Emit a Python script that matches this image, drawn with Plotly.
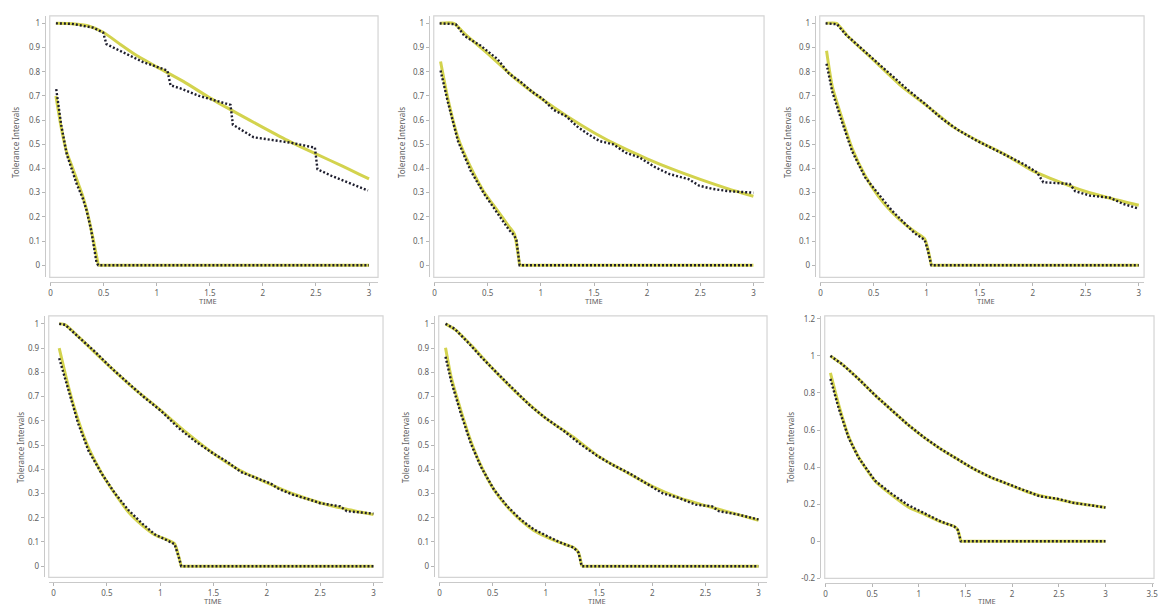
import plotly.graph_objects as go

W, H = 1161, 611

# ---------------- data ----------------
# Panel 1
p1_up_fit_x = [0.05, 0.2, 0.35, 0.5, 0.65, 0.8, 1.0, 1.25, 1.5, 1.75, 2.0, 2.25, 2.5, 2.75, 3.0]
p1_up_fit_y = [1.0, 0.998, 0.99, 0.962, 0.915, 0.87, 0.82, 0.76, 0.692, 0.63, 0.57, 0.512, 0.46, 0.41, 0.357]
p1_up_emp_x = [0.05, 0.2, 0.4, 0.495, 0.526, 0.68, 0.87, 1.056, 1.1, 1.13, 1.243, 1.40, 1.695, 1.717, 1.913, 2.27, 2.49, 2.514, 2.645, 2.99]
p1_up_emp_y = [1.0, 0.998, 0.982, 0.962, 0.914, 0.88, 0.84, 0.812, 0.805, 0.744, 0.728, 0.70, 0.663, 0.581, 0.529, 0.506, 0.486, 0.397, 0.37, 0.309]
p1_lo_fit_x = [0.05, 0.1, 0.15, 0.2, 0.25, 0.3, 0.35, 0.4, 0.45, 3.0]
p1_lo_fit_y = [0.70, 0.57, 0.47, 0.41, 0.35, 0.29, 0.21, 0.11, 0.0, 0.0]
p1_lo_emp_x = [0.053, 0.1, 0.152, 0.2, 0.246, 0.3, 0.339, 0.38, 0.433, 0.45, 3.0]
p1_lo_emp_y = [0.728, 0.58, 0.459, 0.40, 0.336, 0.28, 0.227, 0.15, 0.01, 0.0, 0.0]

# Panel 2
p2_up_fit_x = [0.05, 0.18, 0.3, 0.5, 0.75, 1.0, 1.25, 1.5, 1.75, 2.0, 2.25, 2.5, 2.75, 3.0]
p2_up_fit_y = [1.0, 1.0, 0.95, 0.875, 0.775, 0.69, 0.615, 0.548, 0.49, 0.44, 0.395, 0.355, 0.318, 0.285]
p2_up_emp_x = [0.047, 0.2, 0.28, 0.435, 0.59, 0.70, 0.81, 0.917, 1.01, 1.12, 1.24, 1.34, 1.45, 1.555, 1.68, 1.80, 1.93, 2.08, 2.21, 2.39, 2.49, 2.61, 2.77, 3.0]
p2_up_emp_y = [1.0, 0.996, 0.948, 0.907, 0.853, 0.792, 0.758, 0.717, 0.69, 0.642, 0.615, 0.574, 0.54, 0.513, 0.50, 0.465, 0.445, 0.404, 0.377, 0.356, 0.329, 0.316, 0.306, 0.30]
p2_lo_fit_x = [0.056, 0.124, 0.22, 0.34, 0.466, 0.59, 0.70, 0.75, 0.80, 3.0]
p2_lo_fit_y = [0.842, 0.69, 0.527, 0.404, 0.302, 0.227, 0.16, 0.13, 0.0, 0.0]
p2_lo_emp_x = [0.056, 0.124, 0.22, 0.34, 0.466, 0.59, 0.70, 0.746, 0.77, 0.80, 3.0]
p2_lo_emp_y = [0.805, 0.676, 0.513, 0.39, 0.295, 0.214, 0.146, 0.125, 0.105, 0.0, 0.0]

# Panel 3
p3_up_fit_x = [0.05, 0.15, 0.25, 0.5, 0.75, 1.0, 1.25, 1.5, 1.75, 2.0, 2.25, 2.5, 2.75, 3.0]
p3_up_fit_y = [1.0, 1.0, 0.95, 0.848, 0.745, 0.66, 0.572, 0.51, 0.455, 0.39, 0.345, 0.305, 0.275, 0.248]
p3_up_emp_x = [0.047, 0.156, 0.234, 0.358, 0.514, 0.67, 0.826, 0.98, 1.137, 1.293, 1.449, 1.604, 1.76, 1.916, 2.04, 2.10, 2.35, 2.40, 2.54, 2.73, 2.85, 3.0]
p3_up_emp_y = [1.0, 0.996, 0.955, 0.907, 0.846, 0.785, 0.724, 0.669, 0.608, 0.56, 0.52, 0.486, 0.452, 0.418, 0.384, 0.343, 0.336, 0.306, 0.288, 0.279, 0.254, 0.234]
p3_lo_fit_x = [0.056, 0.11, 0.2, 0.3, 0.42, 0.545, 0.67, 0.8, 0.9, 0.98, 1.01, 1.044, 3.0]
p3_lo_fit_y = [0.887, 0.74, 0.61, 0.48, 0.37, 0.285, 0.22, 0.168, 0.135, 0.11, 0.07, 0.0, 0.0]
p3_lo_emp_x = [0.056, 0.11, 0.2, 0.296, 0.42, 0.545, 0.67, 0.794, 0.888, 0.981, 1.01, 1.044, 3.0]
p3_lo_emp_y = [0.833, 0.717, 0.595, 0.472, 0.363, 0.295, 0.227, 0.173, 0.132, 0.105, 0.064, 0.0, 0.0]

# Panel 4
p4_up_fit_x = [0.053, 0.11, 0.25, 0.5, 0.75, 1.0, 1.25, 1.5, 1.75, 2.0, 2.25, 2.5, 2.75, 3.0]
p4_up_fit_y = [1.0, 0.996, 0.94, 0.835, 0.735, 0.645, 0.55, 0.465, 0.395, 0.345, 0.298, 0.262, 0.235, 0.213]
p4_up_emp_x = [0.053, 0.11, 0.233, 0.389, 0.544, 0.70, 0.855, 1.01, 1.166, 1.32, 1.477, 1.632, 1.756, 1.91, 2.036, 2.098, 2.25, 2.41, 2.5, 2.69, 2.75, 3.0]
p4_up_emp_y = [1.0, 0.996, 0.946, 0.885, 0.817, 0.756, 0.695, 0.64, 0.573, 0.518, 0.471, 0.43, 0.389, 0.362, 0.342, 0.322, 0.294, 0.274, 0.26, 0.247, 0.227, 0.217]
p4_lo_fit_x = [0.053, 0.14, 0.233, 0.326, 0.45, 0.575, 0.70, 0.824, 0.948, 1.072, 1.135, 1.18, 1.197, 3.0]
p4_lo_fit_y = [0.90, 0.74, 0.60, 0.49, 0.385, 0.30, 0.225, 0.172, 0.13, 0.108, 0.093, 0.03, 0.0, 0.0]
p4_lo_emp_x = [0.053, 0.14, 0.233, 0.326, 0.45, 0.575, 0.70, 0.824, 0.948, 1.072, 1.135, 1.18, 1.197, 3.0]
p4_lo_emp_y = [0.858, 0.722, 0.586, 0.478, 0.383, 0.301, 0.233, 0.179, 0.132, 0.105, 0.091, 0.03, 0.0, 0.0]

# Panel 5
p5_up_fit_x = [0.056, 0.15, 0.3, 0.5, 0.75, 1.0, 1.25, 1.5, 1.75, 2.0, 2.25, 2.5, 2.75, 3.0]
p5_up_fit_y = [1.0, 0.975, 0.91, 0.815, 0.705, 0.61, 0.535, 0.452, 0.39, 0.33, 0.283, 0.25, 0.22, 0.19]
p5_up_emp_x = [0.056, 0.14, 0.264, 0.389, 0.544, 0.70, 0.855, 1.01, 1.166, 1.32, 1.477, 1.632, 1.787, 1.943, 2.098, 2.254, 2.41, 2.564, 2.627, 2.81, 3.0]
p5_up_emp_y = [1.0, 0.98, 0.925, 0.864, 0.796, 0.729, 0.661, 0.607, 0.559, 0.505, 0.457, 0.417, 0.383, 0.342, 0.301, 0.281, 0.254, 0.247, 0.227, 0.213, 0.193]
p5_lo_fit_x = [0.056, 0.109, 0.202, 0.295, 0.389, 0.513, 0.637, 0.762, 0.886, 1.01, 1.135, 1.26, 1.306, 1.337, 3.0]
p5_lo_fit_y = [0.901, 0.78, 0.64, 0.515, 0.415, 0.315, 0.245, 0.19, 0.148, 0.12, 0.097, 0.077, 0.057, 0.0, 0.0]
p5_lo_emp_x = [0.056, 0.109, 0.202, 0.295, 0.389, 0.513, 0.637, 0.762, 0.886, 1.01, 1.135, 1.26, 1.306, 1.337, 3.0]
p5_lo_emp_y = [0.864, 0.763, 0.627, 0.505, 0.41, 0.315, 0.247, 0.193, 0.152, 0.125, 0.098, 0.077, 0.057, 0.0, 0.0]

# Panel 6
p6_up_fit_x = [0.053, 0.177, 0.354, 0.531, 0.708, 0.886, 1.063, 1.24, 1.417, 1.594, 1.771, 1.948, 2.125, 2.30, 2.48, 2.657, 2.834, 3.0]
p6_up_fit_y = [1.0, 0.956, 0.876, 0.788, 0.708, 0.628, 0.558, 0.496, 0.442, 0.389, 0.345, 0.31, 0.274, 0.246, 0.228, 0.208, 0.195, 0.182]
p6_up_emp_x = [0.053, 0.177, 0.354, 0.531, 0.708, 0.886, 1.063, 1.24, 1.417, 1.594, 1.771, 1.948, 2.125, 2.30, 2.48, 2.657, 2.834, 3.0]
p6_up_emp_y = [1.0, 0.956, 0.876, 0.788, 0.708, 0.628, 0.558, 0.496, 0.442, 0.389, 0.345, 0.31, 0.274, 0.242, 0.23, 0.207, 0.195, 0.182]
p6_lo_fit_x = [0.053, 0.142, 0.248, 0.354, 0.531, 0.708, 0.886, 1.063, 1.24, 1.38, 1.417, 1.45, 3.0]
p6_lo_fit_y = [0.908, 0.735, 0.565, 0.455, 0.325, 0.25, 0.185, 0.145, 0.105, 0.08, 0.062, 0.0, 0.0]
p6_lo_emp_x = [0.053, 0.142, 0.248, 0.354, 0.531, 0.708, 0.886, 1.063, 1.24, 1.38, 1.417, 1.45, 3.0]
p6_lo_emp_y = [0.876, 0.717, 0.558, 0.451, 0.327, 0.257, 0.195, 0.15, 0.106, 0.08, 0.062, 0.0, 0.0]

x_ticks = [0, 0.5, 1, 1.5, 2, 2.5, 3]
x_labels = ["0", "0.5", "1", "1.5", "2", "2.5", "3"]
x_ticks6 = [0, 0.5, 1, 1.5, 2, 2.5, 3, 3.5]
x_labels6 = ["0", "0.5", "1", "1.5", "2", "2.5", "3", "3.5"]
y_ticks = [0, 0.1, 0.2, 0.3, 0.4, 0.5, 0.6, 0.7, 0.8, 0.9, 1]
y_labels = ["0", "0.1", "0.2", "0.3", "0.4", "0.5", "0.6", "0.7", "0.8", "0.9", "1"]
y_ticks6 = [-0.2, 0, 0.2, 0.4, 0.6, 0.8, 1, 1.2]
y_labels6 = ["-0.2", "0", "0.2", "0.4", "0.6", "0.8", "1", "1.2"]
y_title = "Tolerance Intervals"
x_title = "TIME"

# ---------------- layout geometry (pixels) ----------------
panels = [
    dict(fx=(48, 378), fy=(13, 278), xr=[-0.008, 3.085], yr=[-0.05, 1.031],
         data=(p1_up_fit_x, p1_up_fit_y, p1_up_emp_x, p1_up_emp_y, p1_lo_fit_x, p1_lo_fit_y, p1_lo_emp_x, p1_lo_emp_y),
         ytitle=(13, 141), xtitle=(207, 302), yt=(y_ticks, y_labels), xt=(x_ticks, x_labels)),
    dict(fx=(434, 766), fy=(13, 278), xr=[-0.008, 3.1], yr=[-0.05, 1.031],
         data=(p2_up_fit_x, p2_up_fit_y, p2_up_emp_x, p2_up_emp_y, p2_lo_fit_x, p2_lo_fit_y, p2_lo_emp_x, p2_lo_emp_y),
         ytitle=(401, 141), xtitle=(595, 302), yt=(y_ticks, y_labels), xt=(x_ticks, x_labels)),
    dict(fx=(822, 1148), fy=(13, 278), xr=[-0.008, 3.05], yr=[-0.05, 1.031],
         data=(p3_up_fit_x, p3_up_fit_y, p3_up_emp_x, p3_up_emp_y, p3_lo_fit_x, p3_lo_fit_y, p3_lo_emp_x, p3_lo_emp_y),
         ytitle=(789, 141), xtitle=(989, 302), yt=(y_ticks, y_labels), xt=(x_ticks, x_labels)),
    dict(fx=(47, 383), fy=(317, 582), xr=[-0.045, 3.09], yr=[-0.046, 1.033],
         data=(p4_up_fit_x, p4_up_fit_y, p4_up_emp_x, p4_up_emp_y, p4_lo_fit_x, p4_lo_fit_y, p4_lo_emp_x, p4_lo_emp_y),
         ytitle=(18, 450), xtitle=(212, 606), yt=(y_ticks, y_labels), xt=(x_ticks, x_labels)),
    dict(fx=(439, 769), fy=(317, 582), xr=[-0.008, 3.08], yr=[-0.046, 1.033],
         data=(p5_up_fit_x, p5_up_fit_y, p5_up_emp_x, p5_up_emp_y, p5_lo_fit_x, p5_lo_fit_y, p5_lo_emp_x, p5_lo_emp_y),
         ytitle=(405, 450), xtitle=(598, 606), yt=(y_ticks, y_labels), xt=(x_ticks, x_labels)),
    dict(fx=(827, 1158), fy=(317, 583), xr=[-0.008, 3.52], yr=[-0.2, 1.216],
         data=(p6_up_fit_x, p6_up_fit_y, p6_up_emp_x, p6_up_emp_y, p6_lo_fit_x, p6_lo_fit_y, p6_lo_emp_x, p6_lo_emp_y),
         ytitle=(792, 450), xtitle=(990, 606), yt=(y_ticks6, y_labels6), xt=(x_ticks6, x_labels6)),
]

YELLOW = "#d3d34e"
DARK = "#1e1e2e"
FONT = "Noto Sans"

fig = go.Figure()
layout = dict(width=W, height=H, margin=dict(l=0, r=0, t=0, b=0),
              paper_bgcolor="white", plot_bgcolor="white", showlegend=False,
              shapes=[], annotations=[])


def split_at_zero(xs, ys):
    """Curved part up to the first zero, and the flat zero part after it."""
    k = next(i for i, v in enumerate(ys) if v == 0.0)
    return (xs[:k + 1], ys[:k + 1]), (xs[k:], ys[k:])


for i, p in enumerate(panels, start=1):
    sx = "" if i == 1 else str(i)
    xa, ya = "x" + sx, "y" + sx
    ufx, ufy, uex, uey, lfx, lfy, lex, ley = p["data"]
    (lcx, lcy), (lzx, lzy) = split_at_zero(lfx, lfy)
    yellow_spline = dict(color=YELLOW, width=3, shape="spline", smoothing=0.6)
    yellow_flat = dict(color=YELLOW, width=3)
    for xs, ys, ln in ((ufx, ufy, yellow_spline), (lcx, lcy, yellow_spline), (lzx, lzy, yellow_flat)):
        fig.add_trace(go.Scatter(x=xs, y=ys, mode="lines", xaxis=xa, yaxis=ya,
                                 line=ln, hoverinfo="skip"))
    for xs, ys in ((uex, uey), (lex, ley)):
        fig.add_trace(go.Scatter(x=xs, y=ys, mode="lines", xaxis=xa, yaxis=ya,
                                 line=dict(color=DARK, width=2.4, dash="2px,2px"),
                                 hoverinfo="skip"))
    x0, x1 = p["fx"][0] / W, p["fx"][1] / W
    y0, y1 = 1 - p["fy"][1] / H, 1 - p["fy"][0] / H
    common = dict(showgrid=False, zeroline=False, showline=True, linecolor="#c9c9c9", linewidth=1,
                  ticks="outside", ticklen=3, tickcolor="#b5b5b5", ticklabeloverflow="allow",
                  tickfont=dict(family=FONT, size=8, color="#606060"), anchor="free")
    layout["xaxis" + sx] = dict(domain=[x0, x1], range=p["xr"], position=y0 - 5 / H,
                                tickvals=p["xt"][0], ticktext=p["xt"][1], **common)
    layout["yaxis" + sx] = dict(domain=[y0, y1], range=p["yr"], position=x0 - 5 / W,
                                tickvals=p["yt"][0], ticktext=p["yt"][1], **common)
    layout["shapes"].append(dict(type="rect", xref=xa + " domain", yref=ya + " domain",
                                 x0=0, x1=1, y0=0, y1=1, line=dict(color="#d4d4d4", width=1.2),
                                 layer="below"))
    layout["annotations"].append(dict(text=y_title, x=p["ytitle"][0] / W, y=1 - p["ytitle"][1] / H,
                                      xref="paper", yref="paper", showarrow=False, textangle=-90,
                                      font=dict(family=FONT, size=8, color="#606060"),
                                      xanchor="center", yanchor="middle"))
    layout["annotations"].append(dict(text=x_title, x=p["xtitle"][0] / W, y=1 - p["xtitle"][1] / H,
                                      xref="paper", yref="paper", showarrow=False,
                                      font=dict(family=FONT, size=7.5, color="#606060"),
                                      xanchor="center", yanchor="middle"))

fig.update_layout(**layout)
fig.write_html("out.html")
